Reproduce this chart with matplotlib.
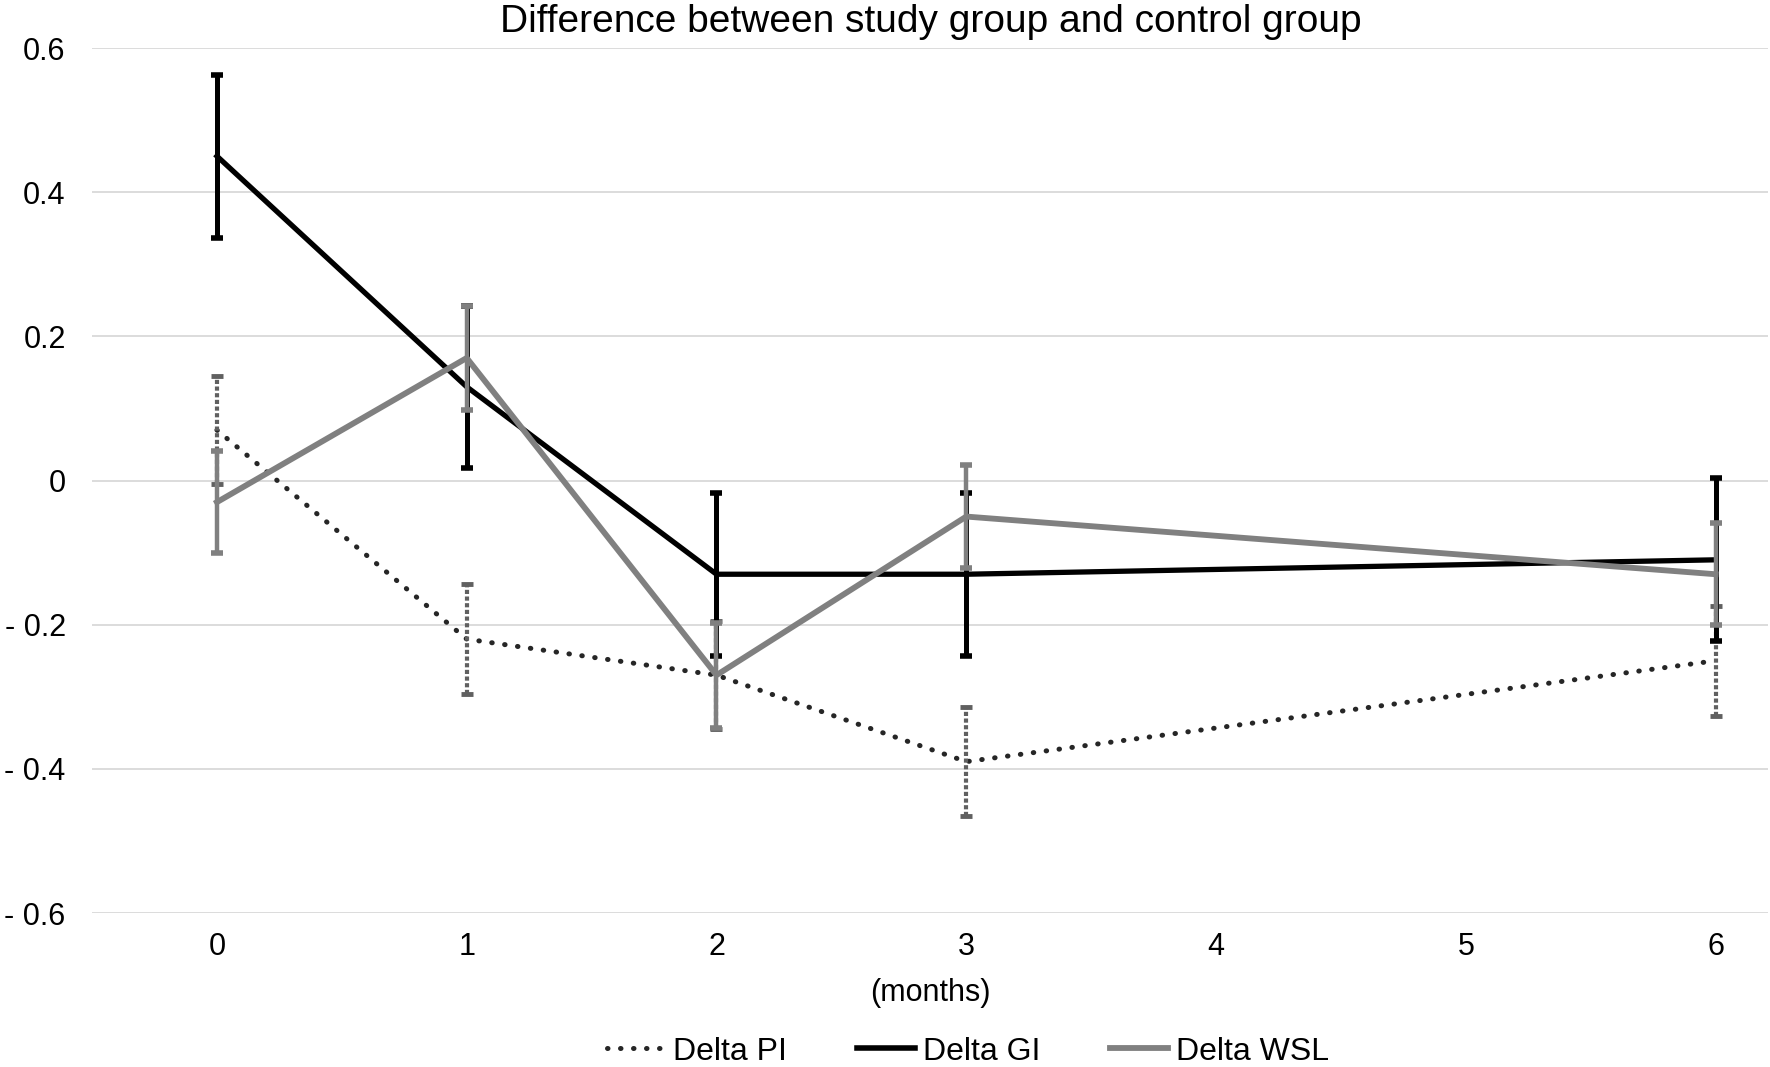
import matplotlib
matplotlib.use("Agg")
import matplotlib.pyplot as plt
from matplotlib.lines import Line2D

plt.rcParams['font.family'] = ['Liberation Sans', 'DejaVu Sans']

# data
months = [0, 1, 2, 3, 6]
pi_vals = [0.07, -0.22, -0.27, -0.39, -0.25]
pi_err = [0.075, 0.076, 0.075, 0.076, 0.076]
gi_vals = [0.45, 0.13, -0.13, -0.13, -0.11]
gi_err = [0.113, 0.112, 0.113, 0.113, 0.113]
wsl_vals = [-0.03, 0.17, -0.27, -0.05, -0.13]
wsl_err = [0.071, 0.072, 0.073, 0.072, 0.071]

xticks = [0, 1, 2, 3, 4, 5, 6]
yticks = [-0.6, -0.4, -0.2, 0, 0.2, 0.4, 0.6]
ytick_labels = ['- 0.6', '- 0.4', '- 0.2', '0', '0.2', '0.4', '0.6']

fig = plt.figure(figsize=(17.7, 10.67), dpi=100)
ax = fig.add_axes([0.052, 0.1443, 0.9469, 0.8107])

pi_style = (0, (0.1, 2.5))

# Delta PI - dotted line, dotted error bars
ax.plot(months, pi_vals, color='#262626', lw=3.6, linestyle=pi_style,
        dash_capstyle='round', zorder=3)
eb = ax.errorbar(months, pi_vals, yerr=pi_err, fmt='none', ecolor='#606060',
                 elinewidth=3, capsize=4, capthick=3.5, zorder=3)
eb[2][0].set_linestyle((0, (1.0, 0.6)))

# Delta GI - black
ax.errorbar(months, gi_vals, yerr=gi_err, color='black', lw=3.8, elinewidth=3.6,
            capsize=4, capthick=4, zorder=4)

# Delta WSL - gray
ax.errorbar(months, wsl_vals, yerr=wsl_err, color='#808080', lw=4.2, elinewidth=3.2,
            capsize=4, capthick=4, zorder=5)

ax.set_xlim(-0.5, 6.21)
ax.set_ylim(-0.6, 0.6)
ax.set_xticks(xticks)
ax.set_yticks(yticks)
ax.set_yticklabels(ytick_labels)
ax.tick_params(axis='both', length=0, labelsize=22, colors='black')
ax.tick_params(axis='x', pad=14)
ax.tick_params(axis='y', pad=19)
ax.grid(axis='y', color='#d9d9d9', lw=1.3)
ax.set_axisbelow(True)
for s in ax.spines.values():
    s.set_visible(False)

ax.set_xlabel('(months)', fontsize=22, labelpad=11)
fig.text(0.526, 0.979, 'Difference between study group and control group',
         ha='center', va='center', fontsize=28)

handles = [
    Line2D([0], [0], color='#262626', lw=3.6, linestyle=pi_style, dash_capstyle='round'),
    Line2D([0], [0], color='black', lw=4),
    Line2D([0], [0], color='#808080', lw=4.2),
]
fig.legend(handles, ['Delta PI', 'Delta GI', 'Delta WSL'], loc='center',
           bbox_to_anchor=(0.547, 0.0145), ncol=3, frameon=False, fontsize=23,
           handlelength=1.8, handletextpad=0.25, columnspacing=2.2)

fig.savefig('out.png', dpi=100)
